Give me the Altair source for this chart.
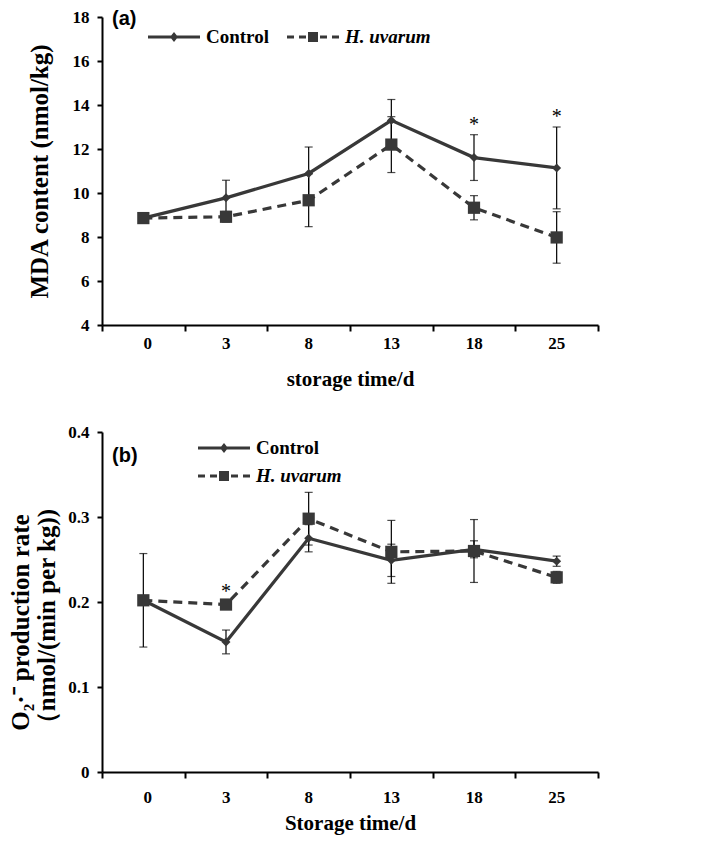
import altair as alt
import pandas as pd

# ---------------- data ----------------
days = ["0", "3", "8", "13", "18", "25"]
series = ["Control", "H. uvarum"]

mda_control = [8.86, 9.78, 10.89, 13.30, 11.61, 11.14]
mda_control_err = [0.10, 0.80, 1.20, 0.95, 1.04, 1.86]
mda_huv = [8.86, 8.92, 9.67, 12.20, 9.33, 7.98]
mda_huv_err = [0.10, 0.24, 1.20, 1.27, 0.55, 1.17]
mda_sig_days = ["18", "25"]

o2_control = [0.202, 0.153, 0.275, 0.249, 0.262, 0.248]
o2_control_err = [0.055, 0.014, 0.016, 0.019, 0.010, 0.006]
o2_huv = [0.202, 0.197, 0.298, 0.259, 0.260, 0.229]
o2_huv_err = [0.003, 0.003, 0.031, 0.037, 0.037, 0.007]
o2_sig_days = ["3"]

DARK = "#383838"
SERIF = "Liberation Serif"
SANS = "Liberation Sans"


def frame(vals, errs, name):
    return pd.DataFrame({
        "idx": list(range(len(days))),
        "day": days,
        "value": vals,
        "lo": [v - e for v, e in zip(vals, errs)],
        "hi": [v + e for v, e in zip(vals, errs)],
        "series": name,
    })


def stars_frame(ctrl, huv, sig_days):
    both = pd.concat([ctrl, huv])
    top = both.groupby(["idx", "day"], as_index=False)["hi"].max()
    return top[top["day"].isin(sig_days)]


label_array = "[" + ",".join("'" + d + "'" for d in days) + "]"
tick_positions = [i - 0.5 for i in range(len(days) + 1)]


def rect(a, b, h=0.15):
    return f"M{a},{-h}H{b}V{h}H{a}Z"


# legend glyphs (unit = 10 px): line segment + marker, all filled shapes
PATH_CTRL = rect(-4.2, 1.0) + "M-1.6,-0.5L-1.2,0L-1.6,0.5L-2.0,0Z"
PATH_HUV = (rect(-4.2, -3.5) + rect(-3.0, -2.3) + "M-2.1,-0.5H-1.1V0.5H-2.1Z"
            + rect(-0.9, -0.2) + rect(0.3, 1.0))


def panel(ctrl, huv, sig_days, ydomain, yvals, ytitle, ytitle_pad, ytitle_y,
          xtitle, xlabel_pad, xtitle_pad,
          tag, tag_y, legend_dir, legend_x, legend_y, height):
    both = pd.concat([ctrl, huv])
    xenc = alt.X(
        "idx:Q",
        scale=alt.Scale(domain=[-0.5, len(days) - 0.5], nice=False, zero=False),
        axis=alt.Axis(
            values=tick_positions,
            labelExpr=f"datum.value < {len(days) - 1} ? {label_array}[datum.value + 0.5] : ''",
            labelOffset=41,
            title=xtitle,
            grid=False,
            domainColor="black", domainWidth=2,
            tickColor="black", tickWidth=2, tickSize=6,
            labelFont=SERIF, labelFontWeight="bold", labelFontSize=17,
            labelColor="black", labelPadding=xlabel_pad,
            titleFont=SERIF, titleFontWeight="bold", titleFontSize=21,
            titleColor="black", titlePadding=xtitle_pad,
        ),
    )
    yaxis_args = dict(
        values=yvals, format="~g", title=ytitle, grid=False,
        domainColor="black", domainWidth=2,
        tickColor="black", tickWidth=2, tickSize=5,
        labelFont=SERIF, labelFontWeight="bold", labelFontSize=17,
        labelColor="black", labelPadding=8,
        titleFont=SERIF, titleFontWeight="bold", titleFontSize=25,
        titleColor="black", titlePadding=ytitle_pad, titleLineHeight=26,
    )
    if ytitle_y is not None:
        yaxis_args["titleY"] = ytitle_y
    yaxis = alt.Axis(**yaxis_args)
    yscale = alt.Scale(domain=ydomain, nice=False, zero=False)

    def Y(field):
        return alt.Y(f"{field}:Q", scale=yscale, axis=yaxis)

    base_err = alt.Chart(both)
    err_rule = base_err.mark_rule(color="black", strokeWidth=1.2).encode(
        x=xenc, y=Y("lo"), y2="hi:Q")
    cap_hi = base_err.mark_tick(orient="horizontal", size=8, thickness=1.2,
                                color="black").encode(x=xenc, y=Y("hi"))
    cap_lo = base_err.mark_tick(orient="horizontal", size=8, thickness=1.2,
                                color="black").encode(x=xenc, y=Y("lo"))

    line_c = alt.Chart(ctrl).mark_line(color=DARK, strokeWidth=3.2).encode(
        x=xenc, y=Y("value"))
    line_h = alt.Chart(huv).mark_line(color=DARK, strokeWidth=3.2,
                                      strokeDash=[9, 6]).encode(x=xenc, y=Y("value"))
    pts_c = alt.Chart(ctrl).mark_point(shape="diamond", filled=True, size=80,
                                       color=DARK, opacity=1).encode(x=xenc, y=Y("value"))
    pts_h = alt.Chart(huv).mark_point(shape="square", filled=True, size=150,
                                      color=DARK, opacity=1).encode(x=xenc, y=Y("value"))

    stars = alt.Chart(stars_frame(ctrl, huv, sig_days)).mark_text(
        text="*", font=SERIF, fontSize=20, color="black", baseline="middle",
        dy=-10).encode(x=xenc, y=Y("hi"))

    leg = alt.Legend(
        title=None, orient="none", direction=legend_dir,
        legendX=legend_x, legendY=legend_y,
        symbolSize=400, symbolStrokeWidth=0, symbolOpacity=1,
        symbolFillColor=DARK,
        labelFont=SERIF, labelFontWeight="bold", labelFontSize=19,
        labelColor="black", labelOffset=6,
        labelFontStyle=alt.ExprRef(expr="datum.label == 'H. uvarum' ? 'italic' : 'normal'"),
        columnPadding=18, rowPadding=8,
    )
    legend_layer = alt.Chart(both).mark_point(
        opacity=0, filled=True, color=DARK).encode(
        x=xenc, y=Y("value"),
        shape=alt.Shape("series:N", scale=alt.Scale(domain=series, range=[PATH_CTRL, PATH_HUV]),
                        legend=leg),
    )

    tag_text = alt.Chart(pd.DataFrame({"t": [tag]})).mark_text(
        font=SANS, fontWeight="bold", fontSize=20, color="black",
        align="left", baseline="middle").encode(
        text="t:N", x=alt.value(10), y=alt.value(tag_y))

    return alt.layer(err_rule, cap_hi, cap_lo, line_c, line_h, pts_c, pts_h,
                     stars, legend_layer, tag_text).properties(width=496, height=height)


mda_c = frame(mda_control, mda_control_err, "Control")
mda_h = frame(mda_huv, mda_huv_err, "H. uvarum")
o2_c = frame(o2_control, o2_control_err, "Control")
o2_h = frame(o2_huv, o2_huv_err, "H. uvarum")

pa = panel(mda_c, mda_h, mda_sig_days, [4, 18], [4, 6, 8, 10, 12, 14, 16, 18],
           "MDA content (nmol/kg)", 20, None, "storage time/d", 4, 17, "(a)", 2,
           "horizontal", 78, 10, 308)
pb = panel(o2_c, o2_h, o2_sig_days, [0, 0.4], [0, 0.1, 0.2, 0.3, 0.4],
           ["O₂·⁻ production rate", "（nmol/(min per kg))"], 8, 190,
           "Storage time/d", 11, 7, "(b)", 24,
           "vertical", 128, 6, 340)

chart = alt.vconcat(pa, pb, spacing=34).resolve_scale(
    shape="independent"
).resolve_legend(shape="independent").properties(
    padding={"left": 0, "top": 0, "right": 5, "bottom": 2},
    background="white",
).configure_view(stroke=None)

chart.save("out.html", embed_options={"renderer": "svg", "actions": False})
